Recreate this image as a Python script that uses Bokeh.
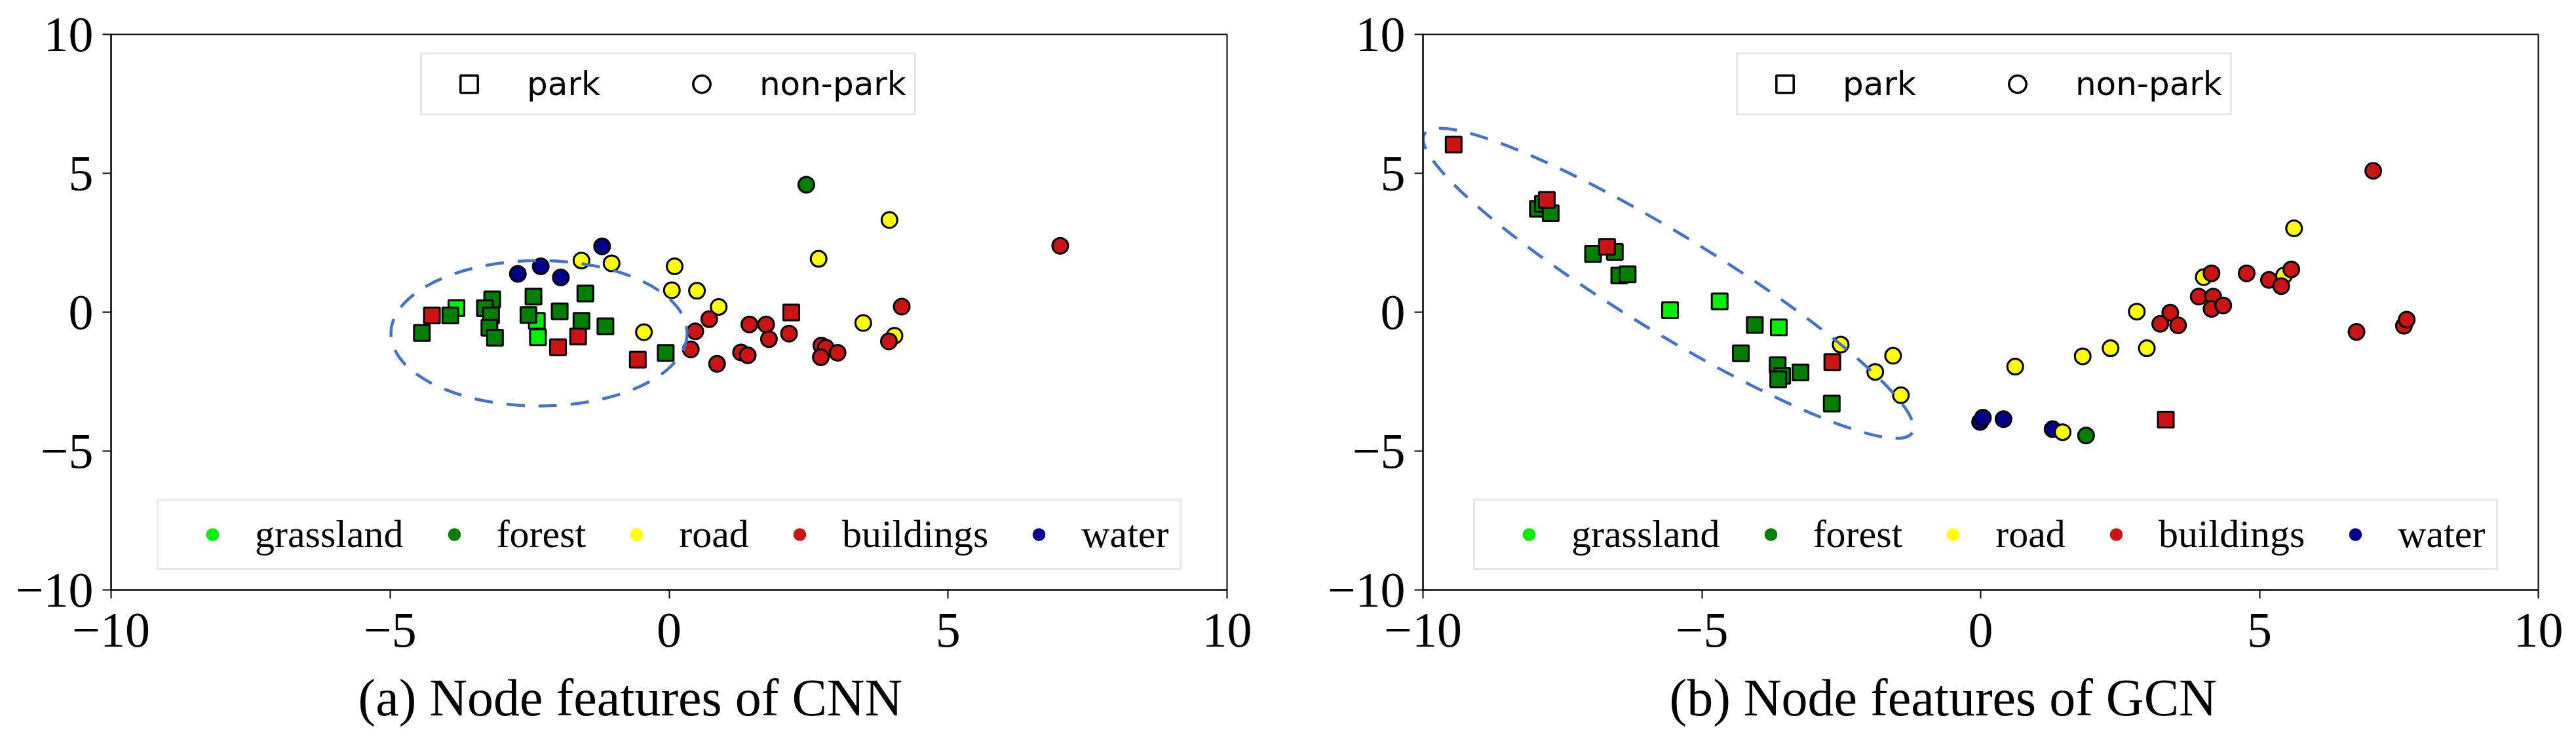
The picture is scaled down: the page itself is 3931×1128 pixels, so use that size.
from bokeh.plotting import figure
from bokeh.layouts import row
from bokeh.models import (ColumnDataSource, Range1d, FixedTicker, Legend, LegendItem, Title)
from bokeh.embed import file_html
from bokeh.resources import INLINE
import math

# ---------------- data ----------------
categories = ["grassland", "forest", "road", "buildings", "water"]
shape_labels = ["park", "non-park"]
tick_values = [-10, -5, 0, 5, 10]
tick_labels = ["\u221210", "\u22125", "0", "5", "10"]
captions = ["(a) Node features of CNN", "(b) Node features of GCN"]

# CNN node features
cnn_x = [-3.81, -2.37, -2.35,
         -4.43, -3.92, -3.17, -3.30, -3.19, -3.22, -3.12, -2.43, -2.52, -1.96, -1.50, -1.57, -1.14, -0.06,
         -4.25, -1.99, -1.63, -0.56, 2.19,
         -2.71, -2.30, -1.94, -1.20,
         -1.57, -1.03, -0.45, 0.10, 0.05, 0.50, 0.89, 2.68, 3.95, 3.48, 4.04,
         2.46,
         7.01, 4.17, 3.94, 0.72, 0.47, 0.39, 0.86, 1.44, 1.74, 1.79, 1.29, 1.41, 2.15, 2.73, 2.81, 2.72, 3.02]
cnn_y = [0.15, -0.31, -0.90,
         -0.75, -0.12, 0.46, 0.14, -0.12, -0.56, -0.92, 0.56, -0.10, 0.03, 0.67, -0.31, -0.51, -1.47,
         -0.12, -1.26, -0.88, -1.71, -0.01,
         1.38, 1.65, 1.25, 2.37,
         1.86, 1.76, -0.72, 1.65, 0.79, 0.77, 0.19, 1.92, 3.32, -0.39, -0.85,
         4.59,
         2.39, 0.20, -1.05, -0.25, -0.69, -1.34, -1.86, -0.44, -0.44, -0.97, -1.45, -1.55, -0.77, -1.20, -1.28, -1.62, -1.46]
cnn_cat = (["grassland"] * 3 + ["forest"] * 14 + ["buildings"] * 5 +
           ["water"] * 4 + ["road"] * 11 + ["forest"] * 1 + ["buildings"] * 17)
cnn_park = [True] * 22 + [False] * 33

# GCN node features
gcn_x = [-5.57, -4.68, -3.62,
         -7.94, -7.85, -7.71, -6.95, -6.56, -6.48, -6.33, -4.05, -4.30, -3.64, -3.56, -3.63, -3.23, -2.67,
         -9.45, -7.78, -6.70, -2.66, 3.32,
         -0.01, 0.04, 0.41, 1.29,
         -2.51, -1.57, -1.89, -1.43, 1.47, 0.62, 1.83, 2.33, 2.98, 2.80, 4.00, 5.44, 5.62,
         1.89,
         7.04, 4.14, 4.77, 5.17, 5.57, 5.39, 3.91, 4.17, 4.14, 4.35, 3.40, 3.22, 3.54, 6.74, 7.59, 7.64]
gcn_y = [0.07, 0.39, -0.55,
         3.72, 3.90, 3.56, 2.10, 2.17, 1.32, 1.36, -0.46, -1.48, -1.91, -2.29, -2.42, -2.17, -3.29,
         6.03, 4.04, 2.35, -1.80, -3.87,
         -3.95, -3.80, -3.85, -4.21,
         -1.17, -1.57, -2.15, -2.99, -4.32, -1.96, -1.59, -1.30, -1.30, 0.02, 1.26, 1.32, 3.02,
         -4.44,
         5.09, 1.40, 1.40, 1.16, 1.54, 0.94, 0.56, 0.56, 0.12, 0.24, -0.02, -0.42, -0.47, -0.71, -0.49, -0.27]
gcn_cat = (["grassland"] * 3 + ["forest"] * 14 + ["buildings"] * 5 +
           ["water"] * 4 + ["road"] * 13 + ["forest"] * 1 + ["buildings"] * 16)
gcn_park = [True] * 22 + [False] * 34

# highlighted cluster (dashed ellipse): centre in data units
cnn_ellipse_center = (-2.33, -0.76)
gcn_ellipse_center = (-5.60, 1.04)

# ---------------- style ----------------
COLORS = {"grassland": "#00f000", "forest": "#008000", "road": "#ffff00",
          "buildings": "#cc1414", "water": "#00008b"}
DRAW_ORDER = ["grassland", "forest", "water", "road", "buildings"]
SERIF = "Liberation Serif"
SANS = "DejaVu Sans"
ELL_COLOR = "#4472c4"
NAN = float("nan")


def make_plot(xs, ys, cats, parks, caption, ell_center, ell_w, ell_h, ell_angle,
              border_left, border_right, frame_w, leg1_x, leg2_x, cap_offset):
    p = figure(frame_width=frame_w, frame_height=848,
               min_border_left=border_left, min_border_right=border_right,
               min_border_top=52, min_border_bottom=226,
               x_range=Range1d(-10, 10), y_range=Range1d(-10, 10),
               output_backend="svg", toolbar_location=None,
               background_fill_color="white", border_fill_color="white")
    p.grid.visible = False
    p.outline_line_color = "black"
    p.outline_line_width = 2

    for ax in (p.xaxis[0], p.yaxis[0]):
        ax.ticker = FixedTicker(ticks=tick_values)
        ax.major_label_overrides = {v: l for v, l in zip(tick_values, tick_labels)}
        ax.major_label_text_font = SERIF
        ax.major_label_text_font_size = "76px"
        ax.major_label_text_color = "black"
        ax.axis_line_width = 2
        ax.axis_line_color = "black"
        ax.major_tick_line_width = 2
        ax.major_tick_line_color = "black"
        ax.major_tick_out = 13
        ax.major_tick_in = 0
        ax.minor_tick_line_color = None
    p.xaxis[0].major_label_standoff = 23
    p.yaxis[0].major_label_standoff = 14
    # blank spacer between the tick labels and the caption
    p.xaxis[0].axis_label = " "
    p.xaxis[0].axis_label_text_font_size = "2px"
    p.xaxis[0].axis_label_standoff = 24

    # points sorted in drawing order
    idx = sorted(range(len(xs)), key=lambda i: (0 if parks[i] else 1, DRAW_ORDER.index(cats[i])))
    src = ColumnDataSource(dict(
        x=[xs[i] for i in idx], y=[ys[i] for i in idx],
        color=[COLORS[cats[i]] for i in idx],
        marker=["square" if parks[i] else "circle" for i in idx]))
    p.scatter("x", "y", source=src, marker="marker", size=24, fill_color="color",
              line_color="black", line_width=3)

    # dashed ellipse
    p.ellipse(x=[ell_center[0]], y=[ell_center[1]], width=[ell_w], height=[ell_h],
              width_units="screen", height_units="screen", angle=[ell_angle],
              fill_color=None, line_color=ELL_COLOR, line_width=4.5, line_dash="28 21")

    # legend 1: shape (proxy renderers, not drawn in the plot area)
    r_sq = p.scatter(x=[NAN], y=[NAN], marker="square", fill_color="white", line_color="black", line_width=3.5)
    r_ci = p.scatter(x=[NAN], y=[NAN], marker="circle", fill_color="white", line_color="black", line_width=3.5)
    leg1 = Legend(items=[LegendItem(label=shape_labels[0], renderers=[r_sq]),
                         LegendItem(label=shape_labels[1], renderers=[r_ci])],
                  orientation="horizontal", location=(leg1_x, 724), margin=0,
                  padding=12, glyph_width=119, glyph_height=66, label_standoff=29, spacing=95,
                  label_text_font=SANS, label_text_font_size="50px", label_text_color="black",
                  border_line_color="#d4d4d4", border_line_width=3,
                  background_fill_color="white", background_fill_alpha=0.85)
    p.add_layout(leg1)

    # legend 2: categories
    items = []
    for c in categories:
        r = p.scatter(x=[NAN], y=[NAN], marker="circle", fill_color=COLORS[c], line_color=None)
        items.append(LegendItem(label=c, renderers=[r]))
    leg2 = Legend(items=items, orientation="horizontal", location=(leg2_x, 30), margin=0,
                  padding=17, glyph_width=130, glyph_height=49, label_standoff=0, spacing=12,
                  label_text_font=SERIF, label_text_font_size="60px", label_text_color="black",
                  border_line_color="#d4d4d4", border_line_width=3,
                  background_fill_color="white", background_fill_alpha=0.85)
    p.add_layout(leg2)

    cap = Title(text=caption, align="left", offset=cap_offset, standoff=0,
                text_font=SERIF, text_font_size="80px", text_font_style="normal",
                text_color="black")
    p.add_layout(cap, "below")
    return p


p1 = make_plot(cnn_x, cnn_y, cnn_cat, cnn_park, captions[0], cnn_ellipse_center,
               452, 222, 0.0, 169, 88, 1703, 472, 70, 377)
p2 = make_plot(gcn_x, gcn_y, gcn_cat, gcn_park, captions[1], gcn_ellipse_center,
               873, 148, -math.radians(31.5), 211, 56, 1702, 478, 77, 376)

layout = row(p1, p2)
open("out.html", "w").write(file_html(layout, INLINE))
